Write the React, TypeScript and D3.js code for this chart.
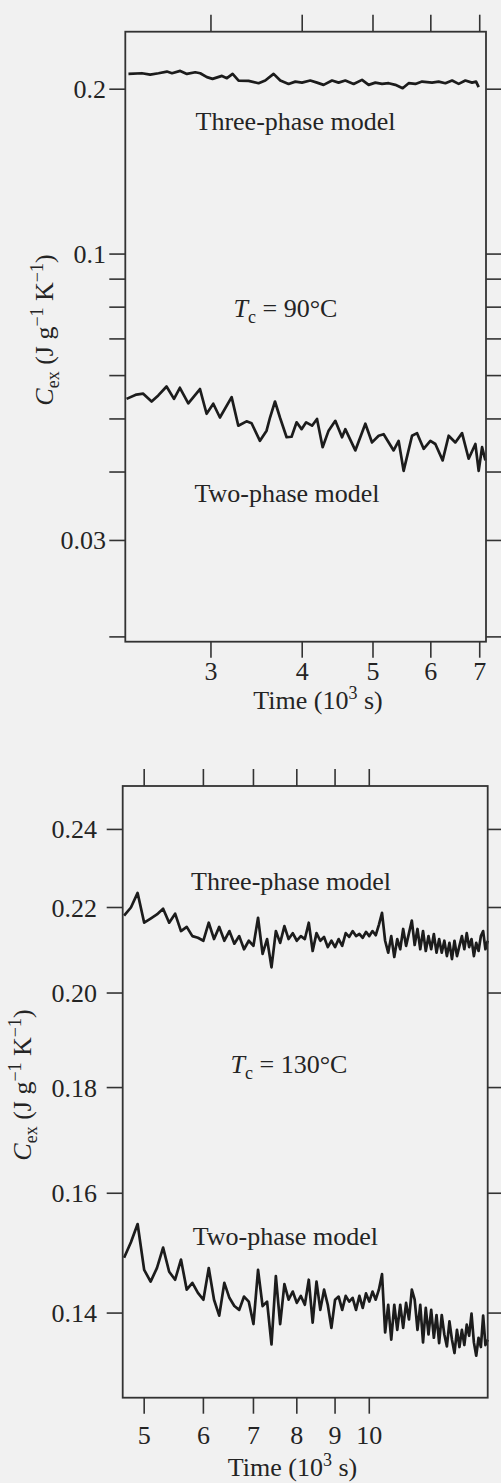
import React from "react";
import * as d3 from "d3";

// upper panel, Tc = 90 C (times in 10^3 s, Cex in J g-1 K-1)
const topThreeTime = [2.313, 2.413, 2.477, 2.543, 2.611, 2.653, 2.723, 2.781, 2.855, 2.9, 2.962, 3.015, 3.106, 3.155, 3.212, 3.273, 3.378, 3.486, 3.56, 3.655, 3.733, 3.832, 3.914, 3.997, 4.103, 4.191, 4.279, 4.394, 4.486, 4.582, 4.704, 4.83, 4.932, 5.037, 5.145, 5.253, 5.365, 5.49, 5.595, 5.715, 5.837, 6.023, 6.15, 6.282, 6.416, 6.551, 6.69, 6.833, 6.92, 6.977];
const topThreeValue = [0.2133, 0.2139, 0.2127, 0.2139, 0.2154, 0.2139, 0.216, 0.2133, 0.2148, 0.2139, 0.2104, 0.2089, 0.2115, 0.2095, 0.2133, 0.2074, 0.2071, 0.2051, 0.2074, 0.2133, 0.2074, 0.2045, 0.2065, 0.2056, 0.2074, 0.2056, 0.2037, 0.2074, 0.2056, 0.2074, 0.2045, 0.208, 0.2037, 0.2056, 0.2045, 0.2051, 0.2037, 0.2008, 0.2051, 0.2045, 0.2065, 0.2056, 0.2065, 0.2051, 0.2074, 0.2045, 0.2074, 0.2056, 0.2065, 0.2017];

const topTwoTime = [2.299, 2.372, 2.423, 2.488, 2.541, 2.608, 2.67, 2.72, 2.793, 2.898, 2.959, 3.022, 3.086, 3.202, 3.27, 3.356, 3.41, 3.501, 3.575, 3.614, 3.671, 3.729, 3.808, 3.868, 3.93, 3.992, 4.05, 4.126, 4.191, 4.266, 4.347, 4.44, 4.535, 4.582, 4.729, 4.881, 4.985, 5.09, 5.171, 5.336, 5.421, 5.507, 5.655, 5.745, 5.866, 5.991, 6.086, 6.228, 6.347, 6.482, 6.621, 6.76, 6.905, 6.977, 7.052, 7.126];
const topTwoValue = [0.0544, 0.0554, 0.0556, 0.0538, 0.0552, 0.0573, 0.0544, 0.057, 0.0534, 0.0567, 0.0511, 0.0533, 0.0503, 0.0548, 0.0486, 0.0495, 0.0491, 0.0456, 0.0476, 0.0503, 0.0538, 0.0503, 0.0463, 0.0464, 0.0493, 0.0479, 0.0493, 0.0486, 0.05, 0.0444, 0.0476, 0.0496, 0.0463, 0.0479, 0.0438, 0.049, 0.0453, 0.0466, 0.0469, 0.0438, 0.0456, 0.0402, 0.0466, 0.0471, 0.0441, 0.0456, 0.045, 0.042, 0.0466, 0.0453, 0.0471, 0.0423, 0.045, 0.0402, 0.0444, 0.042];

// lower panel, Tc = 130 C
const bottomTime = [
  4.7, 4.8, 4.9, 5.0, 5.1, 5.2, 5.3, 5.4, 5.5, 5.6, 5.7, 5.8, 5.9, 6.0, 6.1, 6.2, 6.3, 6.4, 6.5, 6.6,
  6.7, 6.8, 6.9, 7.0, 7.1, 7.2, 7.3, 7.4, 7.5, 7.6, 7.7, 7.8, 7.9, 8.0, 8.1, 8.2, 8.3, 8.4, 8.5, 8.6,
  8.7, 8.8, 8.9, 9.0, 9.1, 9.2, 9.3, 9.4, 9.5, 9.6, 9.7, 9.8, 9.9, 10.0, 10.1, 10.2, 10.3, 10.4, 10.5, 10.6,
  10.7, 10.8, 10.9, 11.0, 11.1, 11.2, 11.3, 11.4, 11.5, 11.6, 11.7, 11.8, 11.9, 12.0, 12.1, 12.2, 12.3, 12.4, 12.5, 12.6,
  12.7, 12.8, 12.9, 13.0, 13.1, 13.2, 13.3, 13.4, 13.5, 13.6, 13.7, 13.8, 13.9, 14.0, 14.1, 14.2, 14.3, 14.4,
];
const bottomThreeValue = [
  0.218, 0.22, 0.2236, 0.2163, 0.2173, 0.2183, 0.2197, 0.2163, 0.2185, 0.2143, 0.2153, 0.2131, 0.2127, 0.212, 0.2163, 0.2124, 0.2153, 0.212, 0.2143, 0.2113,
  0.2131, 0.21, 0.212, 0.2108, 0.2175, 0.2089, 0.2124, 0.2058, 0.2143, 0.2115, 0.2155, 0.2124, 0.2138, 0.212, 0.2131, 0.2124, 0.2163, 0.2096, 0.2138, 0.212,
  0.2129, 0.2105, 0.212, 0.2105, 0.2124, 0.2108, 0.2138, 0.2129, 0.2143, 0.2131, 0.2136, 0.2127, 0.2141, 0.2131, 0.2143, 0.2133, 0.2158, 0.2187, 0.212, 0.2092,
  0.2131, 0.2082, 0.2124, 0.21, 0.2148, 0.2108, 0.2138, 0.2168, 0.211, 0.2148, 0.21, 0.2143, 0.2096, 0.2131, 0.21, 0.2136, 0.2092, 0.2124, 0.2092, 0.212,
  0.2084, 0.2115, 0.2077, 0.212, 0.2084, 0.2108, 0.2131, 0.21, 0.2138, 0.2105, 0.2124, 0.2084, 0.2115, 0.2096, 0.2131, 0.2143, 0.21, 0.212,
];
const bottomTwoValue = [
  0.1489, 0.1515, 0.1546, 0.1469, 0.145, 0.1472, 0.1506, 0.1466, 0.1453, 0.1486, 0.1437, 0.1448, 0.1432, 0.1421, 0.1472, 0.1421, 0.1396, 0.1448, 0.1424, 0.1411,
  0.1405, 0.1426, 0.1418, 0.1383, 0.1469, 0.1411, 0.1418, 0.1352, 0.1459, 0.1383, 0.1446, 0.1421, 0.1434, 0.1416, 0.1427, 0.1413, 0.1453, 0.1385, 0.145, 0.1405,
  0.1437, 0.1413, 0.1377, 0.1421, 0.1426, 0.1405, 0.1427, 0.1418, 0.1424, 0.1405, 0.1427, 0.1408, 0.1431, 0.1418, 0.1434, 0.1421, 0.1437, 0.1462, 0.137, 0.1413,
  0.1359, 0.1413, 0.1374, 0.1413, 0.1377, 0.1416, 0.139, 0.1437, 0.1421, 0.1374, 0.1413, 0.1355, 0.1408, 0.1367, 0.1405, 0.1362, 0.1397, 0.1354, 0.1397, 0.1367,
  0.1349, 0.1387, 0.1359, 0.1339, 0.1374, 0.1348, 0.1374, 0.1351, 0.1382, 0.1365, 0.1399, 0.1355, 0.1335, 0.1362, 0.1348, 0.1396, 0.1351, 0.1359,
];

const topXTicks = [3, 4, 5, 6, 7];
const topYTicks = [0.02, 0.03, 0.04, 0.05, 0.06, 0.07, 0.08, 0.09, 0.1, 0.2];
const topYLabels = [0.2, 0.1, 0.03];
const bottomXTicks = [5, 6, 7, 8, 9, 10];
const bottomYTicks = [0.14, 0.16, 0.18, 0.2, 0.22, 0.24];
const bottomYLabels = [0.14, 0.16, 0.18, 0.2, 0.22, 0.24];

const FONT = "'Liberation Serif', 'Times New Roman', serif";
const INK = "#242424";
const FS = 26;

function Panel(props: any) {
  const { left, right, top, bottom, xDomain, yDomain, xTicks, yTicks, yLabels, yFormat, series, labelX, tickLabelY, texts, tc, timeX, timeY, ylabX, ylabY } = props;
  const x = d3.scaleLog().domain(xDomain).range([left, right]);
  const y = d3.scaleLog().domain(yDomain).range([bottom, top]);
  const line = d3
    .line<[number, number]>()
    .x((d) => x(d[0]))
    .y((d) => y(d[1]));
  const tl = 16;
  return (
    <g fontFamily={FONT} fill={INK}>
      {series.map((s: any, i: number) => (
        <path
          key={i}
          d={line(s.time.map((t: number, j: number) => [t, s.value[j]])) || ""}
          fill="none"
          stroke="#1c1c1c"
          strokeWidth={2.7}
          strokeLinejoin="round"
        />
      ))}
      <rect x={left} y={top} width={right - left} height={bottom - top} fill="none" stroke="#333" strokeWidth={1.8} />
      {yTicks.map((v: number) => (
        <g key={"y" + v} stroke="#333" strokeWidth={1.6}>
          <line x1={left - tl} x2={left} y1={y(v)} y2={y(v)} />
          <line x1={right} x2={right + tl} y1={y(v)} y2={y(v)} />
        </g>
      ))}
      {xTicks.map((v: number) => (
        <g key={"x" + v} stroke="#333" strokeWidth={1.6}>
          <line x1={x(v)} x2={x(v)} y1={top - 17} y2={top} />
          <line x1={x(v)} x2={x(v)} y1={bottom} y2={bottom + 16} />
        </g>
      ))}
      {yLabels.map((v: number) => (
        <text key={"yl" + v} x={labelX} y={y(v) + 9} textAnchor="end" fontSize={FS}>
          {yFormat(v)}
        </text>
      ))}
      {xTicks.map((v: number) => (
        <text key={"xl" + v} x={x(v)} y={tickLabelY} textAnchor="middle" fontSize={FS}>
          {v}
        </text>
      ))}
      {texts.map((t: any) => (
        <text key={t.s} x={t.x} y={t.y} textAnchor="middle" fontSize={FS}>
          {t.s}
        </text>
      ))}
      <text x={tc.x} y={tc.y} textAnchor="middle" fontSize={FS}>
        <tspan fontStyle="italic">T</tspan>
        <tspan dy={6} fontSize={18}>c</tspan>
        <tspan dy={-6}>{" = " + tc.s}</tspan>
      </text>
      <text x={timeX} y={timeY} textAnchor="middle" fontSize={FS}>
        Time (10<tspan dy={-10} fontSize={18}>3</tspan>
        <tspan dy={10}> s)</tspan>
      </text>
      <text transform={`translate(${ylabX},${ylabY}) rotate(-90)`} textAnchor="middle" fontSize={FS}>
        <tspan fontStyle="italic">C</tspan>
        <tspan dy={6} fontSize={18}>ex</tspan>
        <tspan dy={-6}> (J g</tspan>
        <tspan dy={-10} fontSize={18}>−1</tspan>
        <tspan dy={10}> K</tspan>
        <tspan dy={-10} fontSize={18}>−1</tspan>
        <tspan dy={10}>)</tspan>
      </text>
    </g>
  );
}

export default function App() {
  return (
    <svg width={501} height={1483} style={{ position: "absolute", left: 0, top: 0 }}>
      <rect width={501} height={1483} fill="#f1f1f1" />
      <Panel
        left={125.3}
        right={486}
        top={31.7}
        bottom={641.7}
        xDomain={[2.29, 7.14]}
        yDomain={[0.0196, 0.2547]}
        xTicks={topXTicks}
        yTicks={topYTicks}
        yLabels={topYLabels}
        yFormat={(v: number) => String(v)}
        series={[
          { time: topThreeTime, value: topThreeValue },
          { time: topTwoTime, value: topTwoValue },
        ]}
        labelX={106}
        tickLabelY={680}
        texts={[
          { s: "Three-phase model", x: 295.5, y: 130 },
          { s: "Two-phase model", x: 287, y: 501.7 },
        ]}
        tc={{ s: "90°C", x: 285.5, y: 316.7 }}
        timeX={318}
        timeY={709}
        ylabX={53}
        ylabY={330}
      />
      <Panel
        left={122.7}
        right={487.7}
        top={786}
        bottom={1397.7}
        xDomain={[4.68, 14.4]}
        yDomain={[0.1274, 0.2519]}
        xTicks={bottomXTicks}
        yTicks={bottomYTicks}
        yLabels={bottomYLabels}
        yFormat={(v: number) => v.toFixed(2)}
        series={[
          { time: bottomTime, value: bottomThreeValue },
          { time: bottomTime, value: bottomTwoValue },
        ]}
        labelX={97}
        tickLabelY={1444}
        texts={[
          { s: "Three-phase model", x: 291, y: 890 },
          { s: "Two-phase model", x: 285.3, y: 1245 },
        ]}
        tc={{ s: "130°C", x: 289, y: 1073 }}
        timeX={292.5}
        timeY={1476}
        ylabX={31}
        ylabY={1085}
      />
    </svg>
  );
}
